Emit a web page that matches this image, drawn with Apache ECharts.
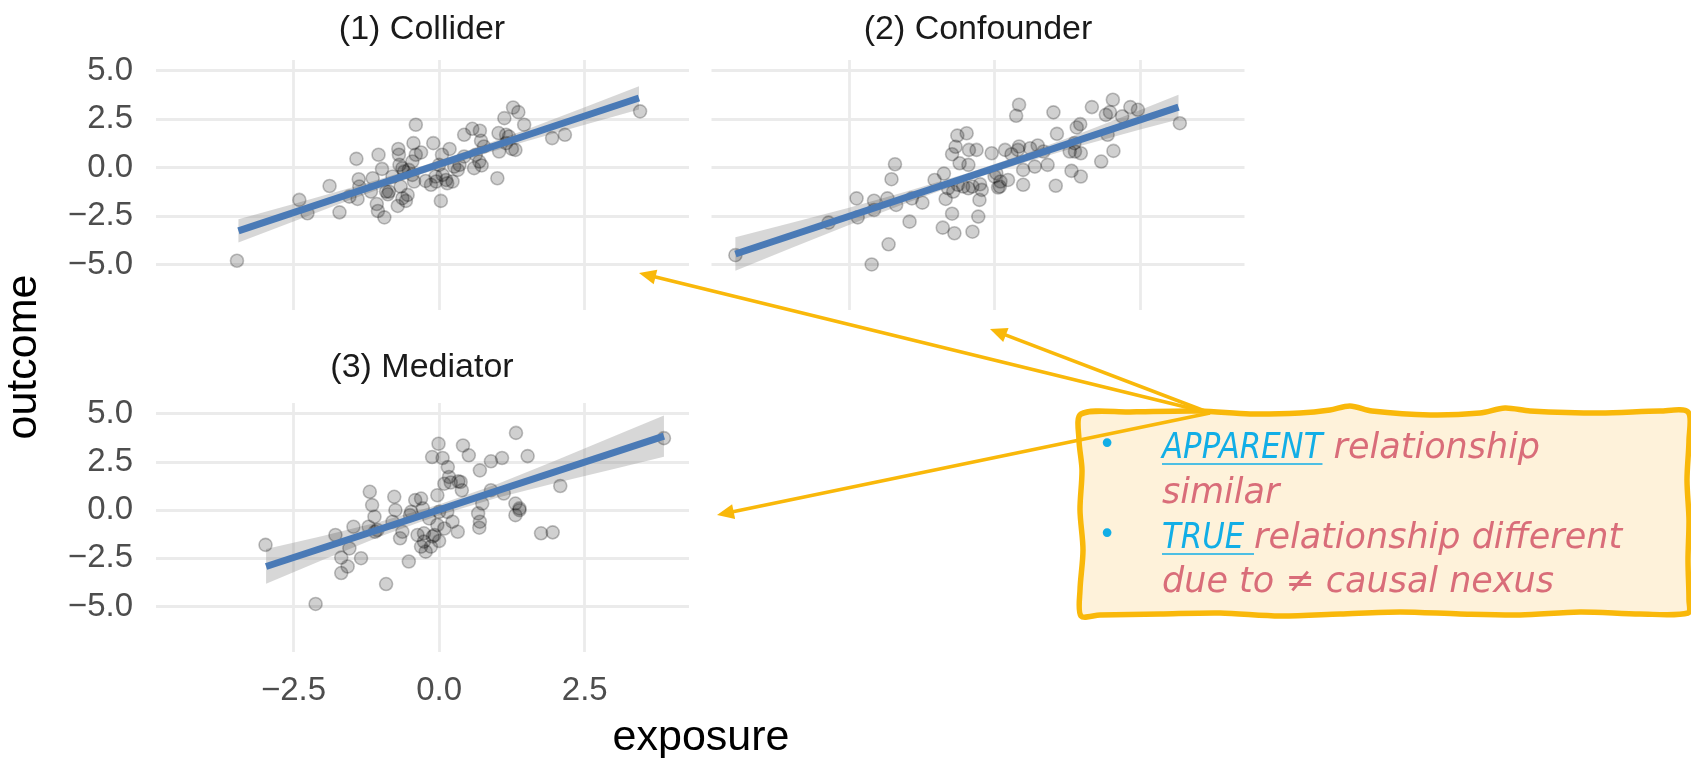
<!DOCTYPE html>
<html>
<head>
<meta charset="utf-8">
<script src="https://cdn.jsdelivr.net/npm/echarts@6/dist/echarts.min.js"></script>
<style>
  html, body { margin: 0; padding: 0; background: #ffffff; }
  #chart { width: 1691px; height: 758px; }
</style>
</head>
<body>
<div id="chart"></div>
<script>
// ---------------- data ----------------
const panelTitles = ['(1) Collider', '(2) Confounder', '(3) Mediator'];
const xAxisTitle = 'exposure';
const yAxisTitle = 'outcome';
const xTicks = [-2.5, 0, 2.5];
const yTicks = [-5, -2.5, 0, 2.5, 5];

// (1) Collider
const colliderX = [-3.47,-2.40,-2.26,-1.88,-1.71,-1.42,-1.38,-1.54,-1.40,-1.14,-1.04,-0.98,-0.91,-1.07,-1.05,-0.94,-0.86,-0.70,-0.69,-0.68,
  -0.60,-0.57,-0.54,-0.71,-0.44,-0.43,-0.40,-0.31,-0.46,-0.52,-0.63,-0.40,-0.10,-0.14,-0.06,0.03,0.05,0.18,0.14,0.23,
  0.26,0.32,0.06,0.00,0.43,0.57,0.70,0.60,0.69,0.73,0.72,0.77,0.63,1.00,1.02,1.03,1.12,1.20,1.25,1.27,
  1.36,1.46,1.15,1.94,2.16,3.45,-1.37,-1.17,-0.80,-0.66,-0.46,-0.23,-0.05,0.12,0.35,0.43,1.15,1.31,-0.63,-0.88];
const colliderY = [-4.81,-1.67,-2.36,-0.95,-2.31,0.45,-0.60,-1.50,-1.62,-0.55,0.66,-0.07,-1.24,-1.88,-2.24,-2.57,-1.24,0.96,0.66,0.14,
  -0.21,-1.72,-1.41,-1.98,1.26,-0.72,0.66,0.78,0.31,-0.12,-0.03,2.21,1.26,-0.89,-0.46,-1.72,0.66,0.96,-0.81,-0.72,
  0.05,-0.12,-0.38,0.14,1.69,2.00,1.90,-0.03,0.31,0.11,1.38,1.09,0.66,-0.55,1.78,0.83,2.55,1.60,0.96,3.10,
  2.86,2.21,1.26,1.52,1.69,2.90,-0.98,-1.24,-0.46,-0.98,-0.38,-0.69,-0.72,-0.64,0.14,0.57,1.69,0.91,-1.58,-1.38];
const colliderFitX = [-3.445, 3.431];
const colliderFitY = [-3.27, 3.59];
const colliderBandX  = [-3.445,-2.5,-1.5,-0.5,0.5,1.5,2.5,3.431];
const colliderBandLo = [-3.87,-2.78,-1.63,-0.54,0.46,1.36,2.21,2.99];
const colliderBandHi = [-2.67,-1.88,-1.03,-0.12,0.88,1.96,3.11,4.19];

// (2) Confounder
const confounderX = [-4.45,-2.85,-2.37,-2.35,-2.11,-2.07,-2.07,-1.84,-1.82,-1.71,-1.77,-1.69,-1.46,-1.42,-1.24,-1.03,-0.87,-0.84,-0.89,-0.69,
  -0.73,-0.71,-0.73,-0.67,-0.64,-0.48,-0.44,-0.31,-0.60,-0.45,-0.63,-0.54,-0.45,-0.38,-0.25,-0.26,-0.28,-0.38,-0.05,0.03,
  0.10,0.06,0.18,0.23,0.29,0.37,0.42,0.42,0.49,0.49,0.61,0.69,0.74,0.84,0.91,1.01,1.07,1.05,1.29,1.32,
  1.38,1.48,1.41,1.47,1.48,1.67,1.83,1.91,1.94,1.98,2.03,2.04,2.19,2.33,2.46,3.18,-0.80,0.00,0.09,1.37,0.40,-0.22];
const confounderY = [-4.52,-2.84,-1.59,-2.57,-5.00,-1.71,-2.19,-1.59,-3.96,0.17,-0.60,-1.93,-2.79,-1.59,-1.81,-0.64,-0.31,-1.62,-3.10,-3.39,
  -2.38,-1.24,0.69,1.07,1.65,1.77,0.91,0.91,0.22,0.14,-0.89,-0.98,-1.07,-0.98,-0.86,-1.67,-2.53,-3.31,0.74,-0.29,
  -0.72,-1.03,0.91,-0.64,0.69,2.67,3.24,1.09,-0.12,-0.89,1.00,0.05,1.14,0.83,0.14,2.85,1.74,-0.94,0.83,-0.17,
  0.83,-0.46,2.07,2.24,0.74,3.12,0.31,2.72,1.69,2.86,3.50,0.86,2.64,3.12,2.98,2.29,-1.07,-0.46,-0.98,1.26,0.91,-1.15];
const confounderFitX = [-4.45, 3.157];
const confounderFitY = [-4.46, 3.12];
const confounderBandX  = [-4.45,-3.5,-2.5,-1.5,-0.5,0.5,1.5,2.5,3.157];
const confounderBandLo = [-5.32,-4.16,-2.97,-1.82,-0.72,0.25,1.14,1.97,2.48];
const confounderBandHi = [-3.60,-2.86,-2.07,-1.22,-0.32,0.69,1.80,2.97,3.76];

// (3) Mediator
const mediatorX = [-2.98,-2.12,-1.78,-1.68,-1.68,-1.57,-1.54,-1.47,-1.34,-1.19,-1.15,-1.11,-1.21,-1.10,-0.91,-0.77,-0.75,-0.80,-0.67,-0.63,
  -0.52,-0.48,-0.31,-0.28,-0.37,-0.26,-0.23,-0.14,-0.11,-0.03,0.00,-0.03,-0.01,-0.12,0.06,0.15,0.17,0.09,0.20,0.33,
  0.39,0.23,0.32,0.09,0.00,0.41,0.51,0.70,0.89,1.08,0.74,0.67,0.70,0.69,0.89,1.11,1.32,1.31,1.38,1.31,
  1.52,1.75,1.95,2.08,3.86,-0.41,-0.50,-0.17,-0.08,0.14,1.38,0.37,-1.06,-0.26,-0.31];
const mediatorY = [-1.80,-4.86,-1.29,-2.46,-3.26,-2.92,-1.98,-0.86,-2.49,0.95,0.26,-0.34,-0.86,-1.12,-3.83,0.69,0.00,-0.60,-1.46,-1.12,
  -2.66,-0.09,0.60,0.09,-1.29,-1.63,-2.15,-1.89,-1.37,-0.77,-0.09,0.77,3.44,2.75,2.70,2.23,1.72,1.37,1.43,1.49,
  1.03,-0.60,-1.12,-0.95,-1.60,3.35,2.84,2.06,2.53,2.70,0.34,-0.17,-0.60,-0.91,1.03,0.86,4.00,0.34,0.00,-0.26,
  2.80,-1.20,-1.15,1.25,3.73,0.52,-0.26,-0.43,-1.29,-0.09,0.09,1.46,-1.03,-1.20,-1.89];
const mediatorFitX = [-2.97, 3.86];
const mediatorFitY = [-2.92, 3.83];
const mediatorBandX  = [-2.97,-2.0,-1.0,0,1.0,2.0,3.0,3.86];
const mediatorBandLo = [-3.82,-2.58,-1.35,-0.27,0.64,1.41,2.13,2.76];
const mediatorBandHi = [-2.02,-1.34,-0.59,0.29,1.36,2.57,3.83,4.90];

const noteLines = [
  ['APPARENT', ' relationship'],
  ['', 'similar'],
  ['TRUE ', 'relationship different'],
  ['', 'due to \u2260 causal nexus']
];

// ---------------- helpers ----------------
const zip = (xs, ys) => xs.map((x, i) => [x, ys[i]]);
const FONT = '"Liberation Sans", Arial, Helvetica, sans-serif';
const fmt = v => (v < 0 ? '\u2212' : '') + Math.abs(v).toFixed(1);

const panels = [
  { x: colliderX, y: colliderY, fx: colliderFitX, fy: colliderFitY, bx: colliderBandX, lo: colliderBandLo, hi: colliderBandHi },
  { x: confounderX, y: confounderY, fx: confounderFitX, fy: confounderFitY, bx: confounderBandX, lo: confounderBandLo, hi: confounderBandHi },
  { x: mediatorX, y: mediatorY, fx: mediatorFitX, fy: mediatorFitY, bx: mediatorBandX, lo: mediatorBandLo, hi: mediatorBandHi }
];

const grids = [
  { left: 156, top: 60, width: 533, height: 250 },
  { left: 711.5, top: 60, width: 533, height: 250 },
  { left: 156, top: 403, width: 533, height: 249 }
];
const XMIN = -4.86, XMAX = 4.29, YMIN = -7.35, YMAX = 5.55;
const GRID_LINE = { color: '#EBEBEB', width: 2.8 };

const xAxes = grids.map((g, i) => ({
  gridIndex: i, type: 'value', min: XMIN, max: XMAX,
  axisLine: { show: false },
  axisTick: { show: false, customValues: xTicks },
  axisLabel: { show: i === 2, customValues: xTicks, formatter: fmt, fontSize: 33, color: '#4D4D4D', fontFamily: FONT, margin: 22 },
  splitLine: { show: true, lineStyle: GRID_LINE }
}));
const yAxes = grids.map((g, i) => ({
  gridIndex: i, type: 'value', min: YMIN, max: YMAX,
  axisLine: { show: false },
  axisTick: { show: false, customValues: yTicks },
  axisLabel: { show: i !== 1, customValues: yTicks, formatter: fmt, fontSize: 33, color: '#4D4D4D', fontFamily: FONT, margin: 23 },
  splitLine: { show: true, lineStyle: GRID_LINE }
}));

const series = [];
panels.forEach((p, i) => {
  series.push({
    type: 'scatter', xAxisIndex: i, yAxisIndex: i, silent: true,
    data: zip(p.x, p.y), symbol: 'circle', symbolSize: 13,
    itemStyle: { color: 'rgba(0,0,0,0.23)', borderColor: 'rgba(0,0,0,0.3)', borderWidth: 1.6 }
  });
  series.push({
    type: 'custom', xAxisIndex: i, yAxisIndex: i, silent: true,
    data: [[p.bx[0], p.lo[0]]],
    renderItem: (params, api) => {
      const pts = [];
      p.bx.forEach((x, k) => pts.push(api.coord([x, p.hi[k]])));
      for (let k = p.bx.length - 1; k >= 0; k--) pts.push(api.coord([p.bx[k], p.lo[k]]));
      return { type: 'polygon', shape: { points: pts }, style: { fill: 'rgba(150,150,150,0.38)' } };
    }
  });
  series.push({
    type: 'line', xAxisIndex: i, yAxisIndex: i, silent: true,
    data: zip(p.fx, p.fy), symbol: 'none',
    lineStyle: { color: '#4A7AB6', width: 7, cap: 'butt' }
  });
});

// ---------------- annotation ----------------
const AMBER = '#F9B80A';
const CYAN = '#12AEE6';
const SALMON = '#D96D79';
const NOTE_FONT = '"DejaVu Sans", "Noto Sans", sans-serif';
const NOTE_SIZE = 35;
const CAPS_SCALE = 0.88;

const graphics = [];
// panel titles
[[422, 30], [978, 30], [422, 368]].forEach((pos, i) => {
  graphics.push({ type: 'text', x: pos[0], y: pos[1], silent: true,
    style: { text: panelTitles[i], font: '34px ' + FONT, fill: '#1A1A1A', align: 'center', verticalAlign: 'middle' } });
});
graphics.push({ type: 'text', x: 701, y: 738, silent: true,
  style: { text: xAxisTitle, font: '43px ' + FONT, fill: '#000', align: 'center', verticalAlign: 'middle' } });
graphics.push({ type: 'text', x: 24, y: 357, rotation: Math.PI / 2, silent: true,
  style: { text: yAxisTitle, font: '43px ' + FONT, fill: '#000', align: 'center', verticalAlign: 'middle' } });

// wobbly note box
const boxPts = [
  [1081,414],[1130,412],[1200,411],[1250,414],[1300,413],[1330,410],[1350,406],[1372,411],[1430,415],[1480,413],[1505,408],[1530,411],[1600,413],[1660,411],[1688,412],
  [1689,440],[1687,480],[1689,520],[1688,560],[1689,600],[1688,613],
  [1640,614],[1580,612],[1520,615],[1460,614],[1400,612],[1340,614],[1280,616],[1220,613],[1160,614],[1100,615],[1081,616],
  [1080,590],[1083,550],[1080,510],[1082,470],[1079,440]
];
graphics.push({ type: 'polygon', silent: true, shape: { points: boxPts, smooth: 0.3 },
  style: { fill: '#FEF2DA', stroke: AMBER, lineWidth: 5.5, lineJoin: 'round' } });

// arrows
const origin = [1210, 413];
[[639, 273], [990, 329], [717, 515]].forEach(tip => {
  const dx = tip[0] - origin[0], dy = tip[1] - origin[1];
  const len = Math.hypot(dx, dy), ux = dx / len, uy = dy / len, nx = -uy, ny = ux;
  const L = 17, W = 7.5;
  const base = [tip[0] - ux * L, tip[1] - uy * L];
  graphics.push({ type: 'line', silent: true, shape: { x1: origin[0], y1: origin[1], x2: base[0] + ux * 2, y2: base[1] + uy * 2 },
    style: { stroke: AMBER, lineWidth: 3.5 } });
  graphics.push({ type: 'polygon', silent: true,
    shape: { points: [tip, [base[0] + nx * W, base[1] + ny * W], [base[0] - nx * W, base[1] - ny * W]] },
    style: { fill: AMBER } });
});

// note text
const ctx = document.createElement('canvas').getContext('2d');
ctx.font = 'italic ' + NOTE_SIZE + 'px ' + NOTE_FONT;
const lineY = [449, 494, 539, 583];
const textX = 1162;
noteLines.forEach((ln, i) => {
  const w = ln[0] ? ctx.measureText(ln[0]).width * CAPS_SCALE : 0;
  if (ln[0]) {
    graphics.push({ type: 'text', x: textX, y: lineY[i], scaleX: CAPS_SCALE, silent: true,
      style: { text: ln[0], font: 'italic ' + NOTE_SIZE + 'px ' + NOTE_FONT, fill: CYAN, align: 'left', verticalAlign: 'middle' } });
    graphics.push({ type: 'line', silent: true, shape: { x1: textX, y1: lineY[i] + 15, x2: textX + w, y2: lineY[i] + 15 },
      style: { stroke: CYAN, lineWidth: 1.6 } });
    graphics.push({ type: 'text', x: 1107, y: lineY[i] - 3, silent: true,
      style: { text: '\u2022', font: '30px ' + NOTE_FONT, fill: CYAN, align: 'center', verticalAlign: 'middle' } });
  }
  graphics.push({ type: 'text', x: textX + w, y: lineY[i], silent: true,
    style: { text: ln[1], font: 'italic ' + NOTE_SIZE + 'px ' + NOTE_FONT, fill: SALMON, align: 'left', verticalAlign: 'middle' } });
});

const chart = echarts.init(document.getElementById('chart'), null, { renderer: 'canvas' });
chart.setOption({
  animation: false,
  backgroundColor: '#ffffff',
  grid: grids.map(g => Object.assign({ containLabel: false, outerBoundsMode: 'none' }, g)),
  xAxis: xAxes,
  yAxis: yAxes,
  series: series,
  graphic: { elements: graphics }
});
</script>
</body>
</html>
